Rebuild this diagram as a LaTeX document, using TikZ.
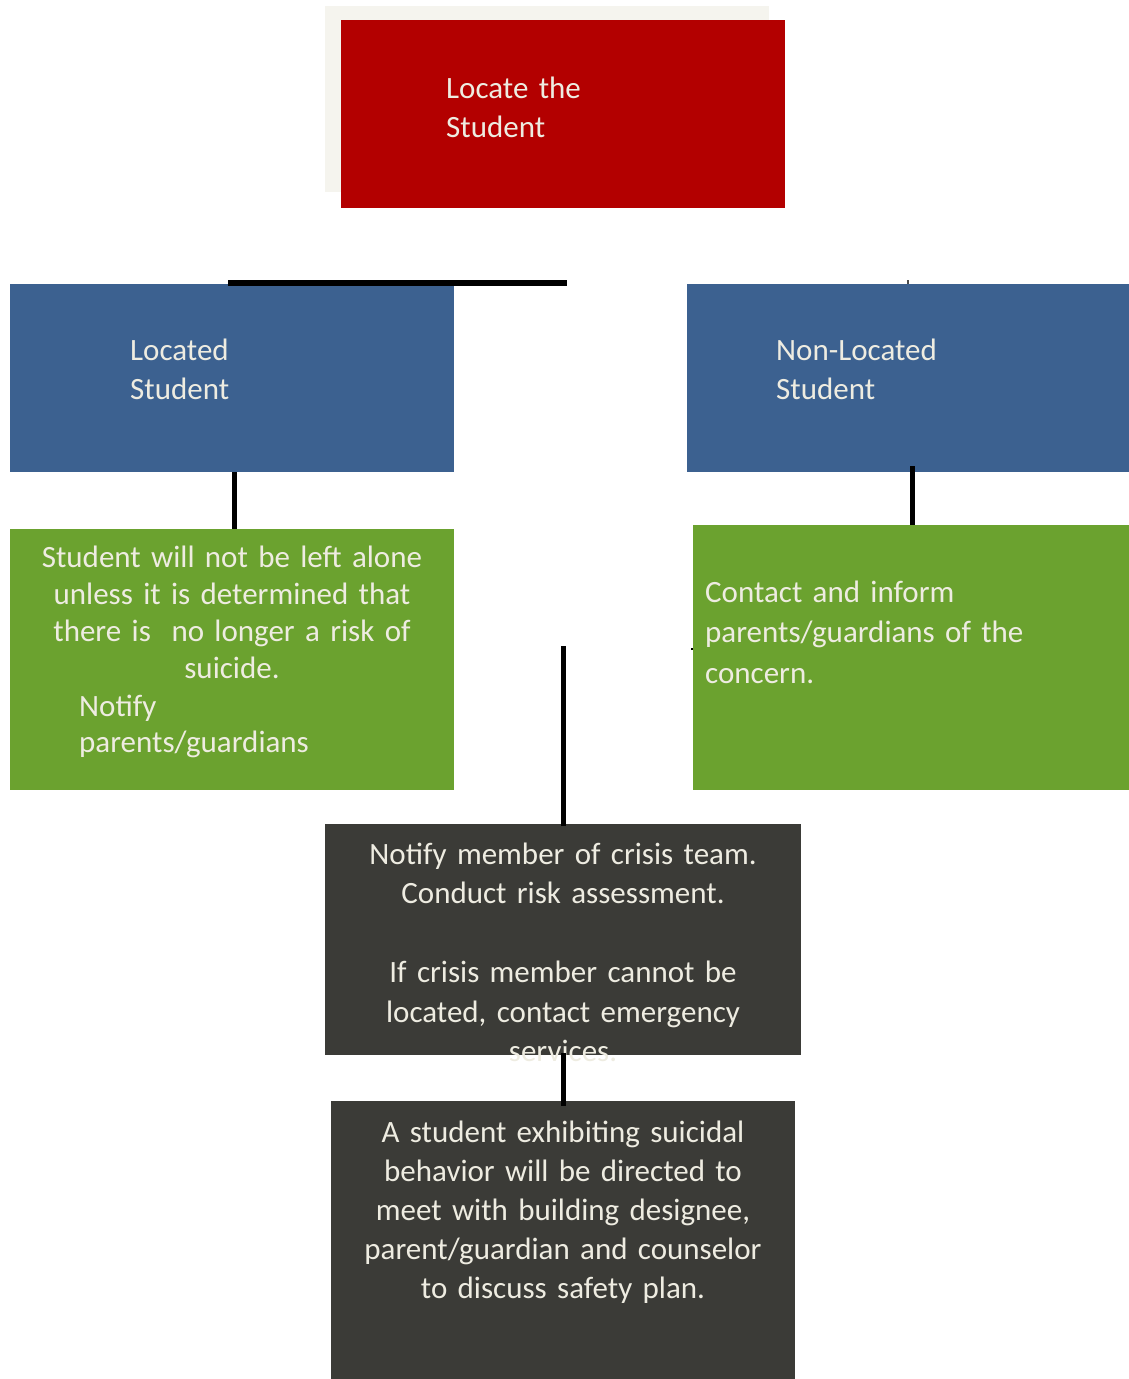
\documentclass[tikz,border=0pt]{standalone}
\usepackage{fontspec}
\setmainfont{Carlito}
\usetikzlibrary{positioning}
\definecolor{boxred}{HTML}{B30000}
\definecolor{boxblue}{HTML}{3C6190}
\definecolor{boxgreen}{HTML}{6BA22F}
\definecolor{boxdark}{HTML}{3B3B37}
\definecolor{boxshade}{HTML}{F5F4EE}
\definecolor{boxtext}{HTML}{EEECE1}
\tikzstyle{box}=[rectangle,inner sep=0pt,outer sep=0pt]
\tikzstyle{txt}=[text=boxtext,inner sep=0pt,font=\fontsize{31}{39}\selectfont]
\tikzstyle{conn}=[line width=5pt]

\begin{document}
\begin{tikzpicture}[x=1pt,y=-1pt]
    \useasboundingbox (0,0) rectangle (1129,1379);

    \node[box, fill=boxshade, minimum width=444, minimum height=186] (shade) at (547,99) {};
    \node[box, fill=boxred, minimum width=444, minimum height=188] (locate) at (563,114) {};
    \node[txt, text width=300, align=left, anchor=base west] (locatetext) at (446,98) {Locate the\\Student};

    \node[box, fill=boxblue, minimum width=444, minimum height=188] (located) at (232,378) {};
    \node[txt, text width=300, align=left, anchor=base west] (locatedtext) at (130,360) {Located\\Student};
    \node[box, fill=boxblue, minimum width=442, minimum height=188] (nonlocated) at (908,378) {};
    \node[txt, text width=300, align=left, anchor=base west] (nonlocatedtext) at (776,360) {Non-Located\\Student};

    \node[box, fill=boxgreen, minimum width=444, minimum height=261] (stay) at (232,659.5) {};
    \node[txt, font=\fontsize{31}{37}\selectfont, text width=440, align=center, anchor=base] (staytext) at (232,567)
        {Student will not be left alone\\unless it is determined that\\there is\ \ no longer a risk of\\suicide.};
    \node[txt, font=\fontsize{31}{36.5}\selectfont, text width=360, align=left, anchor=base west] (notifytext) at (79,716)
        {Notify\\parents/guardians};
    \node[box, fill=boxgreen, minimum width=436, minimum height=265] (contact) at (911,657.5) {};
    \node[txt, font=\fontsize{31}{40.5}\selectfont, text width=420, align=left, anchor=base west] (contacttext) at (705,602)
        {Contact and inform\\parents/guardians of the\\concern.};

    \node[box, fill=boxdark, minimum width=476, minimum height=231] (crisis) at (563,939.5) {};
    \node[txt, font=\fontsize{31}{39.5}\selectfont, text width=470, align=center, anchor=base] (crisistext) at (563,864)
        {Notify member of crisis team.\\Conduct risk assessment.\\[39.5pt]If crisis member cannot be\\located, contact emergency\\services.};
    \node[box, fill=boxdark, minimum width=464, minimum height=278] (plan) at (563,1240) {};
    \node[txt, text width=460, align=center, anchor=base] (plantext) at (563,1142)
        {A student exhibiting suicidal\\behavior will be directed to\\meet with building designee,\\parent/guardian and counselor\\to discuss safety plan.};

    \coordinate (hubleft) at (228,283);
    \coordinate (hubright) at (567,283);
    \coordinate (hubtick) at (908,280);
    \coordinate (hubmid) at (563,646);
    \coordinate (contacttick) at (691,649);
    \draw[line width=6pt] (hubleft) -- (hubright);
    \draw[line width=2pt, black!70] (hubtick) -- (nonlocated.north);
    \draw[conn] ([xshift=2]located.south) -- ([xshift=2]stay.north);
    \draw[conn] ([shift={(4,-6)}]nonlocated.south) -- ([xshift=1]contact.north);
    \draw[conn] (hubmid) -- ([yshift=-2]crisis.north);
    \draw[conn] ([yshift=2]crisis.south) -- ([yshift=-5]plan.north);
    \draw[line width=2pt] (contacttick) -- (contact.west |- contacttick);
\end{tikzpicture}
\end{document}
